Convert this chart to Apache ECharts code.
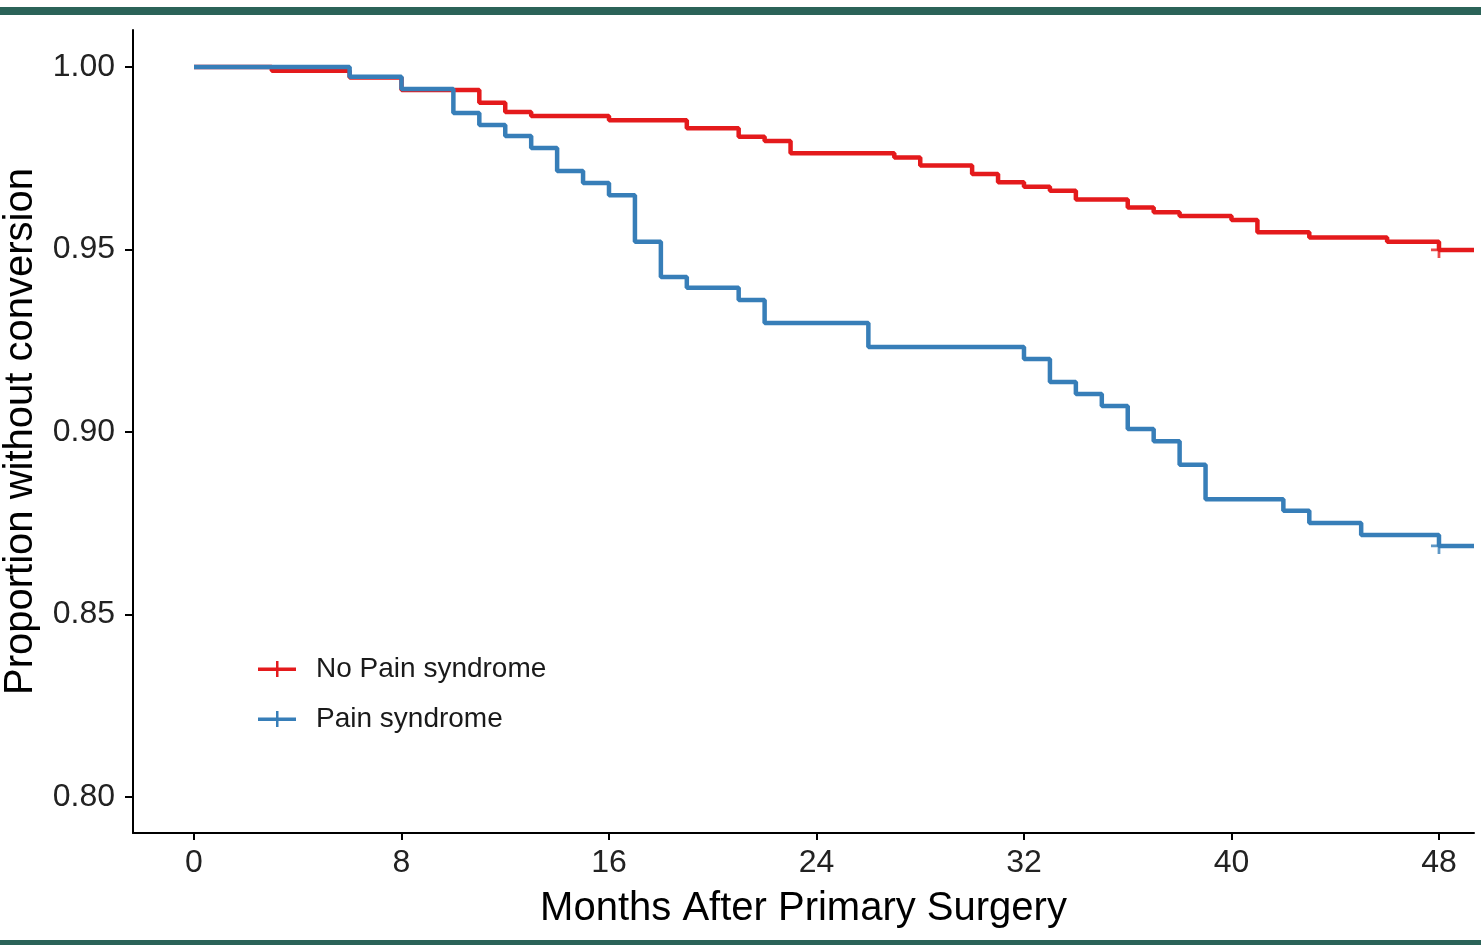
<!DOCTYPE html>
<html>
<head>
<meta charset="utf-8">
<style>
  html, body { margin: 0; padding: 0; background: #ffffff; }
  #chart { width: 1481px; height: 945px; }
</style>
<script src="https://cdn.jsdelivr.net/npm/echarts@6/dist/echarts.min.js"></script>
</head>
<body>
<div id="chart"></div>
<script>
// ---- Data ----
const seriesNames = ['No Pain syndrome', 'Pain syndrome'];

const noPainTimes  = [0, 3, 6, 8, 11, 12, 13, 16, 19, 21, 22, 23, 27, 28, 30, 31, 32, 33, 34, 36, 37, 38, 40, 41, 43, 46, 48, 49.35];
const noPainValues = [1.000, 0.9990, 0.9971, 0.9937, 0.9902, 0.9877, 0.9866, 0.9854, 0.9832, 0.9809, 0.9797, 0.9764, 0.9752, 0.9730, 0.9707, 0.9684, 0.9672, 0.9661, 0.9637, 0.9615, 0.9602, 0.9592, 0.9581, 0.9547, 0.9533, 0.9521, 0.9499, 0.9499];

const painTimes  = [0, 6, 8, 10, 11, 12, 13, 14, 15, 16, 17, 18, 19, 21, 22, 26, 32, 33, 34, 35, 36, 37, 38, 39, 42, 43, 45, 48, 49.35];
const painValues = [1.000, 0.9973, 0.9940, 0.9874, 0.9841, 0.9811, 0.9778, 0.9715, 0.9682, 0.9649, 0.9521, 0.9425, 0.9395, 0.9362, 0.9299, 0.9233, 0.9200, 0.9137, 0.9104, 0.9071, 0.9008, 0.8975, 0.8910, 0.8816, 0.8784, 0.8751, 0.8718, 0.8688, 0.8688];

const noPainCensorTimes  = [48];
const noPainCensorValues = [0.9499];
const painCensorTimes  = [48];
const painCensorValues = [0.8688];

const xTicks = [0, 8, 16, 24, 32, 40, 48];
const yTicks = [0.80, 0.85, 0.90, 0.95, 1.00];

const xTitle = 'Months After Primary Surgery';
const yTitle = 'Proportion without conversion';

// ---- Build ----
const zip = (a, b) => a.map((v, i) => [v, b[i]]);
const RED = '#E41A1C';
const BLUE = '#377EB8';
const FONT = '"Liberation Sans", Arial, Helvetica, sans-serif';
const PLUS = 'path://M6,0 H8.5 V6 H14.5 V8.5 H8.5 V14.5 H6 V8.5 H0 V6 H6 Z';
const LEGEND_ICON = 'path://M0,6.5 H18 V0 H20.5 V6.5 H38 V10 H20.5 V16 H18 V10 H0 Z';

const chart = echarts.init(document.getElementById('chart'), null, { renderer: 'canvas' });

const option = {
  backgroundColor: '#ffffff',
  animation: false,
  textStyle: { fontFamily: FONT },
  graphic: [
    { type: 'rect', shape: { x: 0, y: 7, width: 1481, height: 8 }, style: { fill: '#2B6358' }, silent: true },
    { type: 'rect', shape: { x: 0, y: 940, width: 1481, height: 5 }, style: { fill: '#2B6358' }, silent: true }
  ],
  grid: { left: 133, right: 7, top: 30, bottom: 112, containLabel: false, outerBoundsMode: 'none' },
  legend: {
    orient: 'vertical',
    left: 253,
    top: 649,
    itemWidth: 38,
    itemHeight: 16,
    itemGap: 20,
    data: [
      { name: seriesNames[0], icon: LEGEND_ICON, itemStyle: { color: RED } },
      { name: seriesNames[1], icon: LEGEND_ICON, itemStyle: { color: BLUE } }
    ],
    textStyle: { fontSize: 28, color: '#1a1a1a', fontFamily: FONT, lineHeight: 30, padding: [0, 0, 0, 15] }
  },
  xAxis: {
    type: 'value',
    min: -2.352,
    max: 49.35,
    name: xTitle,
    nameLocation: 'middle',
    nameGap: 56,
    nameTextStyle: { fontSize: 40, color: '#000', fontFamily: FONT },
    axisLine: { show: true, onZero: false, lineStyle: { color: '#000', width: 2 } },
    axisTick: { show: true, length: 7, lineStyle: { color: '#000', width: 2 }, customValues: xTicks },
    axisLabel: { fontSize: 32, color: '#222', margin: 14, customValues: xTicks, fontFamily: FONT },
    splitLine: { show: false }
  },
  yAxis: {
    type: 'value',
    min: 0.79014,
    max: 1.01014,
    name: yTitle,
    nameLocation: 'middle',
    nameRotate: 90,
    nameGap: 92,
    nameTextStyle: { fontSize: 40, color: '#000', fontFamily: FONT },
    axisLine: { show: true, onZero: false, lineStyle: { color: '#000', width: 2 } },
    axisTick: { show: true, length: 8, lineStyle: { color: '#000', width: 2 }, customValues: yTicks },
    axisLabel: { fontSize: 32, color: '#222', margin: 18, customValues: yTicks, fontFamily: FONT,
                 formatter: v => v.toFixed(2) },
    splitLine: { show: false }
  },
  series: [
    {
      name: seriesNames[0], type: 'line', step: 'end', showSymbol: false, symbol: 'none',
      data: zip(noPainTimes, noPainValues),
      lineStyle: { color: RED, width: 4.5 }, itemStyle: { color: RED }, z: 2
    },
    {
      name: seriesNames[1], type: 'line', step: 'end', showSymbol: false, symbol: 'none',
      data: zip(painTimes, painValues),
      lineStyle: { color: BLUE, width: 4.5 }, itemStyle: { color: BLUE }, z: 3
    },
    {
      name: seriesNames[0], type: 'scatter', symbol: PLUS, symbolSize: 16,
      data: zip(noPainCensorTimes, noPainCensorValues), itemStyle: { color: RED }, z: 4, silent: true
    },
    {
      name: seriesNames[1], type: 'scatter', symbol: PLUS, symbolSize: 16,
      data: zip(painCensorTimes, painCensorValues), itemStyle: { color: BLUE }, z: 4, silent: true
    }
  ]
};
chart.setOption(option);
</script>
</body>
</html>
